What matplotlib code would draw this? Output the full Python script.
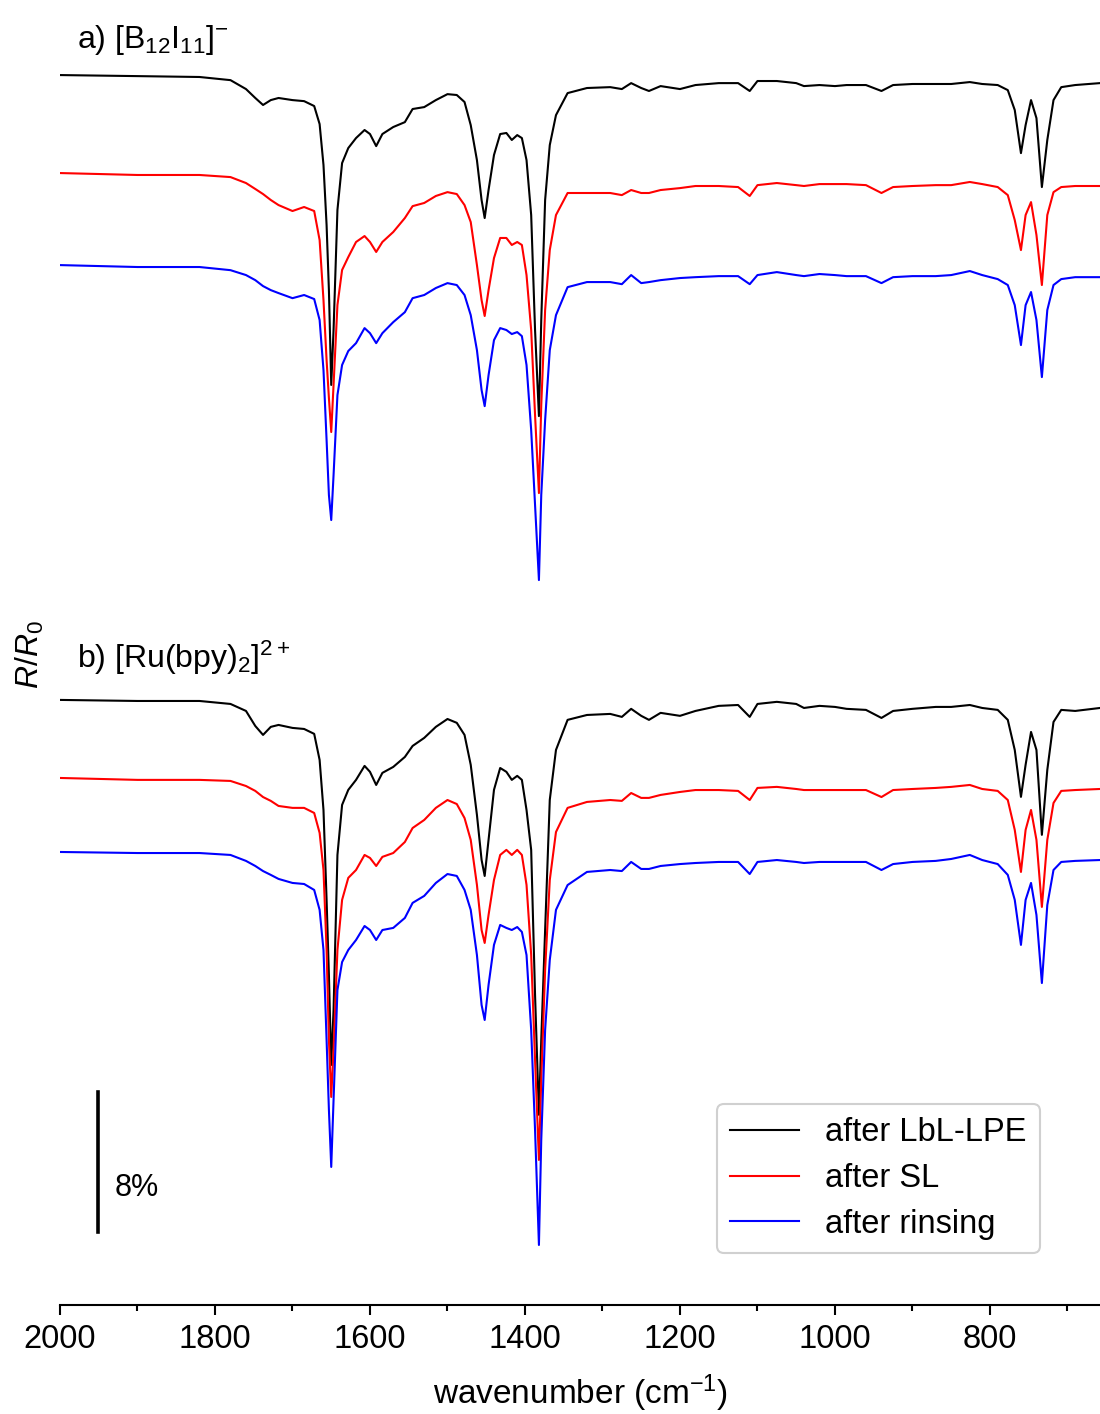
import matplotlib
matplotlib.use("Agg")
import matplotlib.pyplot as plt
import numpy as np

plt.rcParams['font.family'] = ['Liberation Sans', 'DejaVu Sans']
plt.rcParams['mathtext.fontset'] = 'custom'
plt.rcParams['mathtext.rm'] = 'Liberation Sans'
plt.rcParams['mathtext.it'] = 'Liberation Sans:italic'
plt.rcParams['mathtext.default'] = 'regular'

# wavenumber grid (cm-1), shared by all six spectra
wavenumber = [2000, 1900, 1820, 1780, 1760, 1748, 1738, 1728, 1718, 1700,
              1685, 1672, 1665, 1660, 1656, 1653, 1650, 1647, 1642, 1636,
              1628, 1618, 1607, 1600, 1592, 1584, 1570, 1555, 1545, 1530,
              1515, 1500, 1488, 1478, 1470, 1462, 1456, 1452, 1447, 1440,
              1432, 1424, 1417, 1410, 1404, 1398, 1392, 1387, 1382, 1379,
              1374, 1368, 1360, 1345, 1320, 1290, 1275, 1263, 1250, 1240,
              1225, 1200, 1180, 1150, 1125, 1110, 1100, 1075, 1050, 1040,
              1020, 1000, 985, 960, 940, 925, 900, 870, 850, 826,
              810, 790, 777, 768, 760, 754, 747, 740, 733, 726,
              718, 708, 690, 658]

# change of R/R0 in % relative to the value at 2000 cm-1
a_lbl = [0, -0.06, -0.11, -0.29, -0.8, -1.31, -1.71, -1.43, -1.31, -1.43,
         -1.49, -1.77, -2.8, -5.14, -8.57, -12.29, -17.71, -14.57, -7.71, -5.03,
         -4.17, -3.6, -3.14, -3.37, -4.06, -3.37, -2.97, -2.69, -1.94, -1.83,
         -1.43, -1.09, -1.14, -1.54, -2.86, -4.86, -7.14, -8.17, -6.57, -4.57,
         -3.37, -3.31, -3.71, -3.43, -3.6, -4.86, -8.0, -14.57, -19.49, -14.0,
         -7.14, -4.0, -2.29, -1.03, -0.74, -0.69, -0.8, -0.46, -0.74, -0.91,
         -0.63, -0.8, -0.57, -0.46, -0.46, -0.91, -0.34, -0.34, -0.46, -0.63,
         -0.57, -0.63, -0.57, -0.57, -0.91, -0.57, -0.51, -0.51, -0.51, -0.4,
         -0.51, -0.57, -0.86, -2.0, -4.46, -2.86, -1.43, -2.46, -6.4, -3.71,
         -1.43, -0.69, -0.57, -0.46]
a_sl = [0, -0.11, -0.11, -0.23, -0.57, -0.91, -1.2, -1.54, -1.83, -2.17,
        -1.94, -2.17, -3.83, -7.26, -10.69, -12.86, -14.8, -12.11, -7.54, -5.54,
        -4.8, -3.94, -3.6, -3.94, -4.51, -3.94, -3.37, -2.57, -1.89, -1.71,
        -1.31, -1.09, -1.2, -1.83, -2.8, -5.26, -7.26, -8.17, -6.69, -4.86,
        -3.71, -3.71, -4.11, -3.94, -4.11, -5.83, -8.97, -13.83, -18.29, -13.26,
        -7.83, -4.4, -2.4, -1.14, -1.14, -1.14, -1.26, -0.97, -1.14, -1.14,
        -0.97, -0.86, -0.74, -0.74, -0.8, -1.31, -0.69, -0.57, -0.69, -0.74,
        -0.63, -0.63, -0.63, -0.69, -1.14, -0.8, -0.74, -0.69, -0.69, -0.51,
        -0.63, -0.8, -1.26, -2.69, -4.4, -2.4, -1.66, -3.54, -6.4, -2.4,
        -1.09, -0.8, -0.74, -0.74]
a_rinse = [0, -0.11, -0.11, -0.29, -0.57, -0.86, -1.2, -1.43, -1.6, -1.89,
           -1.71, -1.94, -3.14, -6.0, -10.0, -13.14, -14.57, -12.0, -7.43, -5.71,
           -4.91, -4.46, -3.6, -3.89, -4.46, -3.89, -3.26, -2.69, -1.89, -1.71,
           -1.31, -1.03, -1.14, -1.71, -2.86, -4.86, -7.14, -8.06, -6.29, -4.29,
           -3.6, -3.71, -3.94, -3.83, -4.06, -5.71, -9.43, -13.71, -18.0, -13.14,
           -8.86, -4.86, -2.86, -1.26, -0.97, -0.97, -1.09, -0.57, -1.03, -0.97,
           -0.86, -0.74, -0.69, -0.63, -0.63, -1.09, -0.57, -0.4, -0.57, -0.63,
           -0.51, -0.57, -0.63, -0.63, -1.03, -0.69, -0.63, -0.63, -0.57, -0.34,
           -0.57, -0.8, -1.14, -2.29, -4.57, -2.29, -1.54, -3.14, -6.4, -2.57,
           -1.14, -0.8, -0.69, -0.69]
b_lbl = [0, -0.06, -0.06, -0.23, -0.63, -1.49, -2.0, -1.54, -1.43, -1.6,
         -1.66, -1.94, -3.43, -6.29, -11.43, -15.71, -20.86, -17.71, -8.86, -6.0,
         -5.14, -4.57, -3.77, -4.11, -4.86, -4.17, -3.83, -3.26, -2.63, -2.17,
         -1.54, -1.09, -1.31, -2.0, -3.71, -6.57, -9.14, -10.06, -8.0, -5.14,
         -3.89, -4.11, -4.57, -4.34, -4.57, -6.29, -8.57, -16.86, -23.71, -19.43,
         -13.14, -5.71, -2.86, -1.14, -0.86, -0.8, -0.97, -0.51, -0.91, -1.14,
         -0.74, -0.91, -0.63, -0.34, -0.29, -0.97, -0.23, -0.11, -0.23, -0.46,
         -0.34, -0.4, -0.51, -0.57, -1.03, -0.63, -0.51, -0.4, -0.4, -0.29,
         -0.46, -0.57, -1.14, -2.86, -5.54, -3.71, -1.83, -2.86, -7.71, -4.0,
         -1.26, -0.57, -0.63, -0.46]
b_sl = [0, -0.11, -0.11, -0.17, -0.46, -0.74, -1.09, -1.31, -1.6, -1.71,
        -1.71, -2.0, -3.14, -5.26, -9.83, -14.97, -18.23, -15.54, -9.83, -6.97,
        -5.71, -5.26, -4.4, -4.57, -5.03, -4.51, -4.29, -3.66, -2.86, -2.4,
        -1.71, -1.26, -1.49, -2.29, -3.54, -6.11, -8.69, -9.43, -7.83, -5.83,
        -4.4, -4.11, -4.4, -4.11, -4.4, -6.11, -10.11, -16.11, -21.83, -17.26,
        -10.97, -5.83, -3.09, -1.71, -1.37, -1.26, -1.31, -0.86, -1.14, -1.14,
        -0.97, -0.8, -0.69, -0.69, -0.74, -1.26, -0.57, -0.51, -0.63, -0.69,
        -0.69, -0.69, -0.69, -0.69, -1.09, -0.69, -0.63, -0.57, -0.51, -0.4,
        -0.63, -0.74, -1.26, -2.97, -5.37, -2.97, -1.83, -3.54, -7.37, -3.54,
        -1.43, -0.74, -0.69, -0.63]
b_rinse = [0, -0.06, -0.06, -0.17, -0.51, -0.8, -1.09, -1.31, -1.54, -1.77,
           -1.83, -2.17, -3.31, -5.6, -10.74, -14.74, -18.0, -14.17, -7.89, -6.29,
           -5.6, -5.03, -4.23, -4.46, -5.03, -4.46, -4.34, -3.77, -2.91, -2.51,
           -1.77, -1.26, -1.37, -2.17, -3.31, -5.89, -8.74, -9.6, -7.6, -5.31,
           -4.17, -4.34, -4.46, -4.29, -4.57, -5.89, -10.17, -15.89, -22.46, -16.46,
           -10.17, -6.17, -3.31, -1.89, -1.14, -1.03, -1.09, -0.57, -0.97, -0.97,
           -0.8, -0.69, -0.63, -0.57, -0.57, -1.26, -0.57, -0.46, -0.57, -0.63,
           -0.57, -0.57, -0.57, -0.57, -1.03, -0.69, -0.57, -0.51, -0.4, -0.17,
           -0.46, -0.69, -1.31, -2.74, -5.31, -2.74, -1.77, -3.6, -7.49, -3.03,
           -1.03, -0.57, -0.51, -0.46]

# vertical offsets of the stacked spectra (%)
offsets = [0, -5.6, -10.86, -35.71, -40.17, -44.4]
spectra = [a_lbl, a_sl, a_rinse, b_lbl, b_sl, b_rinse]
colors = ['black', 'red', 'blue', 'black', 'red', 'blue']
labels = ['after LbL-LPE', 'after SL', 'after rinsing']

fig = plt.figure(figsize=(11, 14.14), dpi=100)
ax = fig.add_axes([60/1100, 109/1414, 1040/1100, 1305/1414])

x = np.array(wavenumber)
for i in range(6):
    y = np.array(spectra[i]) + offsets[i]
    lab = labels[i] if i < 3 else None
    ax.plot(x, y, color=colors[i], lw=1.5, label=lab,
            solid_joinstyle='round')

ax.set_xlim(2000, 658)
ax.set_ylim(-70.29, 4.29)

for s in ['left', 'top', 'right']:
    ax.spines[s].set_visible(False)
ax.spines['bottom'].set_linewidth(1.5)
ax.set_yticks([])
ax.set_xticks([2000, 1800, 1600, 1400, 1200, 1000, 800])
ax.set_xticks([1900, 1700, 1500, 1300, 1100, 900, 700], minor=True)
ax.tick_params(axis='x', which='major', length=7, width=1.5, labelsize=23.5, pad=7)
ax.tick_params(axis='x', which='minor', length=4, width=1.5)
ax.set_xlabel(r'wavenumber (cm$^{-1}$)', fontsize=24, labelpad=12)

fig.text(30/1100, 1 - 655/1414, r'$\mathit{R}/\mathit{R}_0$', rotation=90,
         fontsize=23, ha='center', va='center')

ax.text(0.0163, 0.9632, r'a) [B$_{12}$I$_{11}$]$^{-}$', transform=ax.transAxes,
        fontsize=23, va='baseline')
ax.text(0.0163, 0.4881, r'b) [Ru(bpy)$_2$]$^{2+}$', transform=ax.transAxes,
        fontsize=23, va='baseline')

# 8 % scale bar
bar_x = 1951
bar_bottom = -66.1
ax.plot([bar_x, bar_x], [bar_bottom, bar_bottom + 8], color='black', lw=2.6)
ax.text(1929, bar_bottom + 2.5, '8%', fontsize=22, va='center', ha='left')

leg = ax.legend(loc='lower left', bbox_to_anchor=(0.632, 0.040), borderaxespad=0,
                fontsize=23.5, handlelength=2.1, handletextpad=0.8,
                labelspacing=0.45, borderpad=0.4, fancybox=True, framealpha=1)
leg.get_frame().set_edgecolor('#d0d0d0')
leg.get_frame().set_linewidth(1.5)

plt.savefig('out.png', dpi=100)
